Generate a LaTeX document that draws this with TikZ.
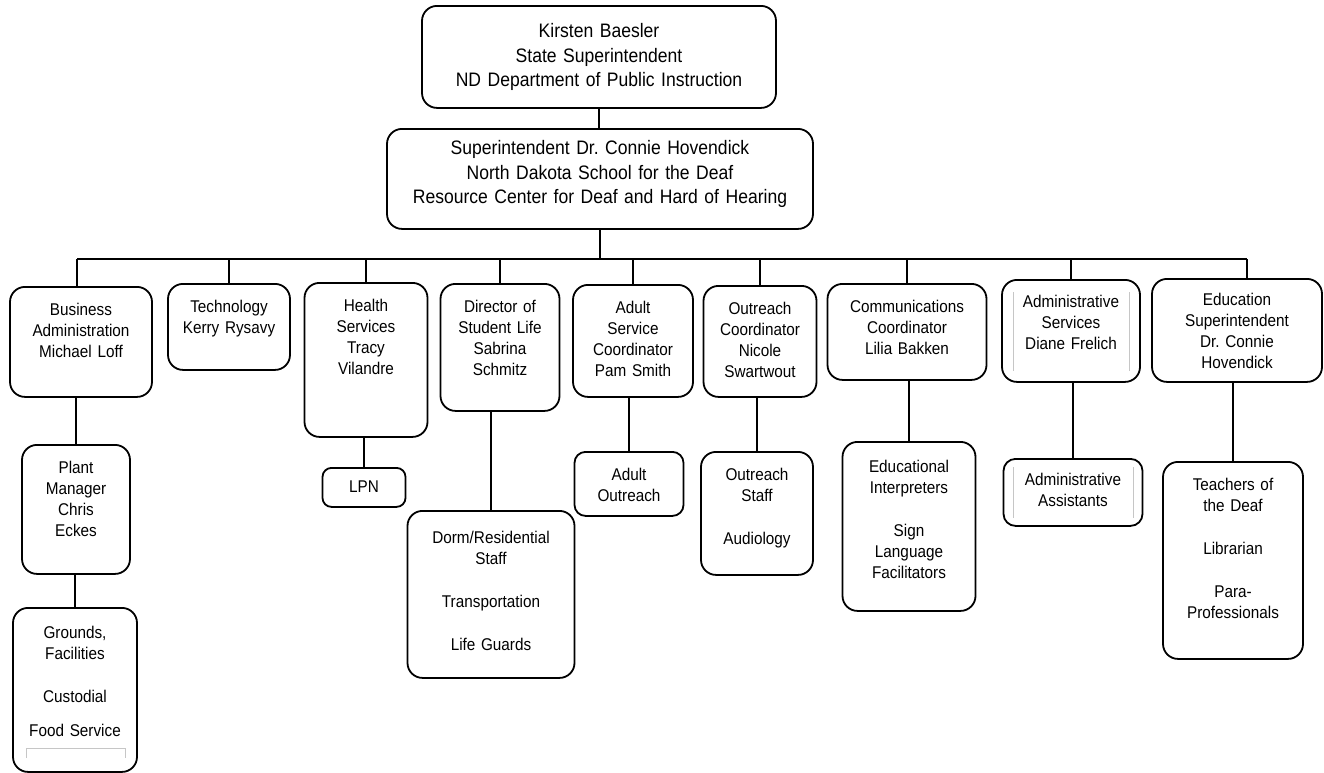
\documentclass[tikz,border=0pt]{standalone}
\usepackage{fontspec}
\setmainfont[FakeStretch=0.9]{Liberation Sans}
\usepackage{tikz}

\newcommand{\unitfont}{\fontsize{17}{20.8}\selectfont}
\newcommand{\headfont}{\fontsize{19.5}{24.5}\selectfont}

\tikzset{
  unit/.style={draw, line width=1.8pt, rounded corners=15pt, align=center, anchor=north,
    minimum width=#1, text width=#1-4pt, inner xsep=2pt, inner ysep=15pt, text height=14pt, font=\unitfont},
  head/.style={unit=#1, font=\headfont},
  link/.style={line width=1.8pt},
  smudge/.style={gray!45, line width=1pt}
}

\begin{document}
\begin{tikzpicture}[x=1pt, y=-1pt]
  \useasboundingbox (0,0) rectangle (1324,772);

  % state and school
  \node[head=354pt, text height=17pt, text depth=55pt] (state) at (599,5) {Kirsten Baesler\\State Superintendent\\ND Department of Public Instruction};
  \node[head=426pt, text height=11pt, text depth=59pt] (ndsd) at (600,128) {Superintendent Dr.\ Connie Hovendick\\North Dakota School for the Deaf\\Resource Center for Deaf and Hard of Hearing};

  % department heads
  \node[unit=142pt, text depth=66pt] (business) at (81,286) {Business\\Administration\\Michael Loff};
  \node[unit=122pt, text depth=42pt] (tech) at (229,283) {Technology\\Kerry Rysavy};
  \node[unit=123pt, text depth=110pt] (health) at (366,282) {Health\\Services\\Tracy\\Vilandre};
  \node[unit=119pt, text depth=83pt] (life) at (500,283) {Director of\\Student Life\\Sabrina\\Schmitz};
  \node[unit=120pt, text depth=68pt] (adult) at (633,284) {Adult\\Service\\Coordinator\\Pam Smith};
  \node[unit=113pt, text depth=67pt] (outreach) at (760,285) {Outreach\\Coordinator\\Nicole\\Swartwout};
  \node[unit=159pt, text depth=52pt] (comm) at (907,283) {Communications\\Coordinator\\Lilia Bakken};
  \node[unit=138pt, text depth=59pt, text height=13pt] (admin) at (1071,279) {Administrative\\Services\\Diane Frelich};
  \node[unit=170pt, text depth=61pt, text height=12pt] (edusup) at (1237,278) {Education\\Superintendent\\Dr.\ Connie\\Hovendick};

  % staff
  \node[unit=108pt, text depth=85pt] (plant) at (76,444) {Plant\\Manager\\Chris\\Eckes};
  \node[unit=124pt, text depth=118pt, text height=16pt] (grounds) at (75,607) {Grounds,\\Facilities\\[22pt]Custodial\\[13pt]Food Service};
  \node[unit=83pt, rounded corners=9pt, inner ysep=11pt, text height=14pt, text depth=3pt] (lpn) at (364,467) {LPN};
  \node[unit=167pt, text depth=119pt, text height=18pt] (dorm) at (491,510) {Dorm/Residential\\Staff\\[22pt]Transportation\\[22pt]Life Guards};
  \node[unit=109pt, rounded corners=11pt, text depth=20pt] (adultout) at (629,451) {Adult\\Outreach};
  \node[unit=112pt, text depth=79pt] (outstaff) at (757,451) {Outreach\\Staff\\[22pt]Audiology};
  \node[unit=133pt, text depth=123pt, text height=16pt] (interp) at (909,441) {Educational\\Interpreters\\[22pt]Sign\\Language\\Facilitators};
  \node[unit=139pt, rounded corners=12pt, text depth=25pt, text height=12pt] (assist) at (1073,458) {Administrative\\Assistants};
  \node[unit=140pt, text depth=153pt] (teachers) at (1233,461) {Teachers of\\the Deaf\\[22pt]Librarian\\[22pt]Para-\\Professionals};

  % lines
  \coordinate (busL) at (77,259);
  \coordinate (busR) at (1247,259);
  \draw[link] (state.south) -- (state.south |- ndsd.north);
  \draw[link] (ndsd.south) -- (ndsd.south |- busL);
  \draw[link] (busL) -- (busR);
  \draw[link] (busL) -- (busL |- business.north);
  \draw[link] (busR) -- (busR |- edusup.north);
  \foreach \n in {tech, health, life, adult, outreach, comm, admin}
    \draw[link] (\n.north) -- (\n.north |- busL);
  \foreach \a/\b in {business/plant, plant/grounds, health/lpn, life/dorm, adult/adultout, outreach/outstaff, comm/interp, admin/assist, edusup/teachers}
    \draw[link] (\b.north) -- (\b.north |- \a.south);

  % faint marks left in the boxes
  \draw[smudge] (1013,292) -- (1013,371) (1129,292) -- (1129,371);
  \draw[smudge] (1013,467) -- (1013,518) (1133,467) -- (1133,518);
  \draw[smudge] (26,758) -- (26,748) -- (125,748) -- (125,758);
\end{tikzpicture}
\end{document}
